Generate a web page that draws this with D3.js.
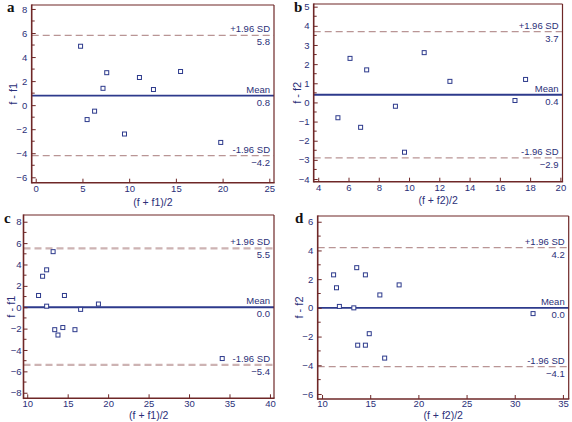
<!DOCTYPE html>
<html><head><meta charset="utf-8">
<script src="https://cdn.jsdelivr.net/npm/d3@7"></script>
<style>body{margin:0;background:#fff}svg{display:block}</style>
</head><body>
<script>
// ---- data ----
const panelLetters = ["a", "b", "c", "d"];
const yTitles = ["f - f1", "f - f2", "f - f1", "f - f2"];
const xTitles = ["(f + f1)/2", "(f + f2)/2", "(f + f1)/2", "(f + f2)/2"];

const aX = [4.8, 5.5, 6.3, 7.2, 7.6, 9.5, 11.1, 12.6, 15.5, 19.8];
const aY = [4.9, -1.2, -0.5, 1.4, 2.7, -2.4, 2.3, 1.3, 2.8, -3.1];
const bX = [5.3, 6.1, 6.8, 7.2, 9.1, 9.7, 11.0, 12.7, 17.0, 17.7];
const bY = [-0.8, 2.3, -1.3, 1.7, -0.2, -2.6, 2.6, 1.1, 0.1, 1.2];
const cX = [11.4, 11.9, 12.4, 12.4, 13.2, 13.4, 13.8, 14.4, 14.6, 15.9, 16.6, 18.8, 34.1];
const cY = [1.1, 2.9, 3.5, 0.1, 5.2, -2.1, -2.6, -1.9, 1.1, -2.1, -0.2, 0.3, -4.8];
const dX = [11.2, 11.5, 11.8, 13.3, 13.6, 13.7, 14.5, 14.5, 14.9, 16.0, 16.5, 18.0, 31.9];
const dY = [2.3, 1.4, 0.1, 0.0, 2.8, -2.6, 2.3, -2.6, -1.8, 0.9, -3.5, 1.6, -0.4];

const meanVals = [0.8, 0.4, 0.0, 0.0];
const upperVals = [5.8, 3.7, 5.5, 4.2];
const lowerVals = [-4.2, -2.9, -5.4, -4.1];

const xDomains = [[-0.43, 25.5], [3.7, 20.14], [9.54, 40.5], [9.55, 35.6]];
const yDomains = [[-6.45, 8.33], [-4.14, 5.14], [-8.52, 8.63], [-6.35, 6.4]];
const xTickVals = [[0, 5, 10, 15, 20, 25], [4, 6, 8, 10, 12, 14, 16, 18, 20], [10, 15, 20, 25, 30, 35, 40], [10, 15, 20, 25, 30, 35]];
const yTickVals = [[-6, -4, -2, 0, 2, 4, 6, 8], [-4, -3, -2, -1, 0, 1, 2, 3, 4, 5], [-8, -6, -4, -2, 0, 2, 4, 6, 8], [-6, -4, -2, 0, 2, 4, 6]];
const yMinorVals = [[-5, -3, -1, 1, 3, 5, 7], [-3.5, -2.5, -1.5, -0.5, 0.5, 1.5, 2.5, 3.5, 4.5], [-7, -5, -3, -1, 1, 3, 5, 7], [-5, -3, -1, 1, 3, 5]];

const pointsX = [aX, bX, cX, dX];
const pointsY = [aY, bY, cY, dY];

// ---- layout ----
const W = 572, H = 422;
const panelOrigins = [[0, 0], [286, 0], [0, 211], [286, 211]];
const plotRects = [ // left, top, right, bottom (panel-local)
  [31.7, 5, 274, 182.7],
  [27.7, 4, 276.5, 181.7],
  [23.5, 4, 274, 187.3],
  [31.7, 5, 282.7, 188]
];
const letterX = [7, 8, 4, 9];
const yTitleX = [16.5, 14.5, 14.5, 16.5];
const yTickPad = [4.5, 4.2, 2, 4.5];
const xTitleY = [205.5, 204, 207.5, 207.5];
const xTickPad = [3, 3, 1.5, 1.5];

const FRAME = "#6e2727", TXT = "#2b2f78", MEAN = "#2d3a8c";
const DASH = ["#b99595", "#b99595", "#cdb3b3", "#b99595"];
const DASHW = [1.2, 1.2, 2.2, 1.2];
const FONT = "'Liberation Sans', Arial, sans-serif";

const svg = d3.select("body").append("svg").attr("width", W).attr("height", H);

for (let i = 0; i < 4; i++) {
  const [ox, oy] = panelOrigins[i];
  const [l, t, r, b] = plotRects[i];
  const g = svg.append("g").attr("transform", `translate(${ox},${oy})`);
  const x = d3.scaleLinear().domain(xDomains[i]).range([l, r]);
  const y = d3.scaleLinear().domain(yDomains[i]).range([b, t]);

  // dashed limit lines
  [upperVals[i], lowerVals[i]].forEach(v => {
    g.append("line").attr("x1", l).attr("x2", r).attr("y1", y(v)).attr("y2", y(v))
      .attr("stroke", DASH[i]).attr("stroke-width", DASHW[i]).attr("stroke-dasharray", "7,4");
  });
  // mean line
  g.append("line").attr("x1", l).attr("x2", r).attr("y1", y(meanVals[i])).attr("y2", y(meanVals[i]))
    .attr("stroke", MEAN).attr("stroke-width", 1.8);

  // labels
  const lab = (txt, yy) => g.append("text").attr("x", r - 4).attr("y", yy).attr("text-anchor", "end")
    .attr("font-family", FONT).attr("font-size", 9.5).attr("fill", TXT).text(txt);
  const fmt = d3.format(".1f");
  lab("+1.96 SD", y(upperVals[i]) - 3);
  lab(fmt(upperVals[i]), y(upperVals[i]) + 10);
  lab("Mean", y(meanVals[i]) - 3);
  lab(fmt(meanVals[i]), y(meanVals[i]) + 10);
  lab("-1.96 SD", y(lowerVals[i]) - 3);
  lab(fmt(lowerVals[i]), y(lowerVals[i]) + 10);

  // points
  g.selectAll("rect.pt").data(pointsX[i].map((v, k) => [v, pointsY[i][k]])).enter()
    .append("rect").attr("class", "pt")
    .attr("x", d => x(d[0]) - 2).attr("y", d => y(d[1]) - 2)
    .attr("width", 4).attr("height", 4)
    .attr("fill", "#fff").attr("stroke", MEAN).attr("stroke-width", 1);

  // axes (ticks inward)
  const yAxis = d3.axisLeft(y).tickValues(yTickVals[i]).tickSize(-4).tickPadding(yTickPad[i]).tickFormat(d3.format("d"));
  const yg = g.append("g").attr("transform", `translate(${l},0)`).call(yAxis);
  const xAxis = d3.axisBottom(x).tickValues(xTickVals[i]).tickSize(-4).tickPadding(xTickPad[i]).tickFormat(d3.format("d"));
  const xg = g.append("g").attr("transform", `translate(0,${b})`).call(xAxis);
  [yg, xg].forEach(ag => {
    ag.select(".domain").remove();
    ag.selectAll("line").attr("stroke", FRAME);
    ag.selectAll("text").attr("fill", TXT).attr("font-family", FONT).attr("font-size", 9.5);
  });
  // minor y ticks
  g.selectAll("line.minor").data(yMinorVals[i]).enter().append("line").attr("class", "minor")
    .attr("x1", l).attr("x2", l + 3).attr("y1", d => y(d)).attr("y2", d => y(d))
    .attr("stroke", FRAME).attr("stroke-width", 1);

  // frame
  g.append("line").attr("x1", l).attr("x2", r).attr("y1", t).attr("y2", t).attr("stroke", FRAME).attr("stroke-width", 1.2);
  g.append("line").attr("x1", r).attr("x2", r).attr("y1", t).attr("y2", b).attr("stroke", FRAME).attr("stroke-width", 1.2);
  g.append("line").attr("x1", l).attr("x2", l).attr("y1", t - 0.6).attr("y2", b + 0.8).attr("stroke", FRAME).attr("stroke-width", 1.6);
  g.append("line").attr("x1", l).attr("x2", r + 0.6).attr("y1", b).attr("y2", b).attr("stroke", FRAME).attr("stroke-width", 1.6);

  // titles
  g.append("text").attr("transform", `translate(${yTitleX[i]},${(t + b) / 2}) rotate(-90)`)
    .attr("text-anchor", "middle").attr("font-family", FONT).attr("font-size", 11).attr("fill", TXT)
    .text(yTitles[i]);
  g.append("text").attr("x", (l + r) / 2).attr("y", xTitleY[i])
    .attr("text-anchor", "middle").attr("font-family", FONT).attr("font-size", 10.5).attr("fill", TXT)
    .text(xTitles[i]);

  // panel letter
  g.append("text").attr("x", letterX[i]).attr("y", 12)
    .attr("font-family", "'Liberation Serif', 'Times New Roman', serif").attr("font-weight", "bold")
    .attr("font-size", 15).attr("fill", "#111").text(panelLetters[i]);
}
</script>
</body></html>
